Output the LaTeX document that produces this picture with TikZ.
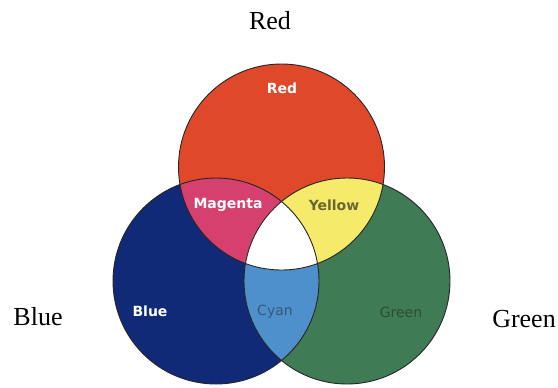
\documentclass[tikz,border=0pt]{standalone}
\usepackage{fontspec}
\setmainfont{Liberation Serif}
\newfontfamily\labfont{DejaVu Sans}
\definecolor{cred}{HTML}{E0482A}
\definecolor{cblue}{HTML}{102A78}
\definecolor{cgreen}{HTML}{3F7B55}
\definecolor{cmag}{HTML}{D6406E}
\definecolor{cyel}{HTML}{F6EA6A}
\definecolor{ccyan}{HTML}{4D90CC}
\definecolor{tyel}{HTML}{6A6632}
\definecolor{tcyan}{HTML}{35597A}
\definecolor{tgreen}{HTML}{2C4E34}
\tikzset{
  outer/.style={font=\fontsize{26bp}{30bp}\selectfont, inner sep=0pt, anchor=base},
  inlab/.style={font=\labfont\bfseries\fontsize{14bp}{16bp}\selectfont, inner sep=0pt},
  inlabr/.style={font=\labfont\fontsize{14bp}{16bp}\selectfont, inner sep=0pt},
  rim/.style={draw=black!85, line width=0.9bp}
}
\begin{document}
\begin{tikzpicture}[x=1bp,y=-1bp]
\useasboundingbox (0,0) rectangle (558,387);
\coordinate (cr) at (281.5,167);
\coordinate (cb) at (216,281);
\coordinate (cg) at (347,281);
% base circles
\fill[cred] (cr) circle (103bp);
\fill[cblue] (cb) circle (103bp);
\fill[cgreen] (cg) circle (103bp);
% pairwise overlaps
\begin{scope}
  \clip (cr) circle (103bp);
  \fill[cmag] (cb) circle (103bp);
  \fill[cyel] (cg) circle (103bp);
\end{scope}
\begin{scope}
  \clip (cb) circle (103bp);
  \fill[ccyan] (cg) circle (103bp);
\end{scope}
\begin{scope}
  \clip (cr) circle (103bp);
  \clip (cb) circle (103bp);
  \fill[white] (cg) circle (103bp);
\end{scope}
% outlines
\draw[rim] (cr) circle (103bp);
\draw[rim] (cb) circle (103bp);
\draw[rim] (cg) circle (103bp);
% inner labels
\node[inlab, text=white] (lr) at (282,88) {Red};
\node[inlab, text=white] (lm) at (228,205) {Magenta};
\node[inlab, text=tyel] (ly) at (334,205) {Yellow};
\node[inlab, text=white] (lb) at (150,311) {Blue};
\node[inlabr, text=tcyan] (lc) at (275,312) {Cyan};
\node[inlabr, text=tgreen] (lg) at (401,312) {Green};
% outer labels
\node[outer] (tr) at (270,29) {Red};
\node[outer] (tb) at (38,325) {Blue};
\node[outer] (tg) at (524,327) {Green};
\end{tikzpicture}
\end{document}
